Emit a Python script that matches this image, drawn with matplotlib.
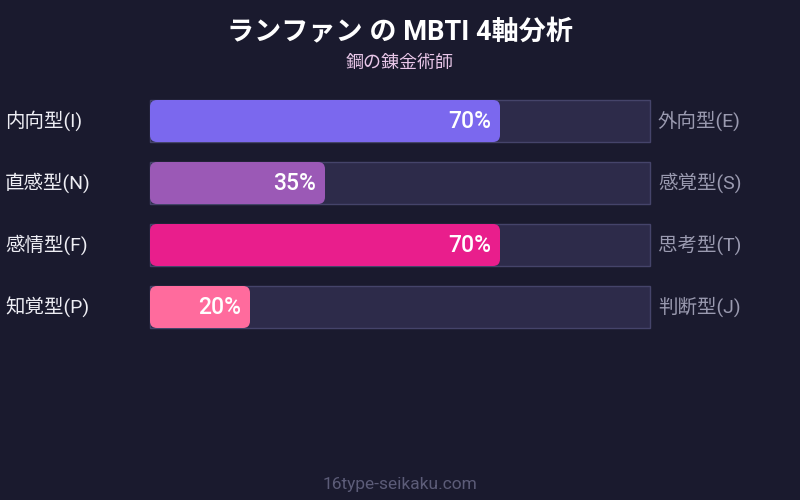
import matplotlib
matplotlib.use("Agg")
import matplotlib.pyplot as plt
from matplotlib.patches import FancyBboxPatch, Rectangle

plt.rcParams['font.family'] = ['Roboto', 'Noto Sans CJK JP', 'DejaVu Sans']

title = "ランファン の MBTI 4軸分析"
subtitle = "鋼の錬金術師"
footer = "16type-seikaku.com"
left_labels = ["内向型(I)", "直感型(N)", "感情型(F)", "知覚型(P)"]
right_labels = ["外向型(E)", "感覚型(S)", "思考型(T)", "判断型(J)"]
values = [70, 35, 70, 20]
bar_colors = ["#7b68ee", "#9b59b6", "#e91e8c", "#ff6b9d"]

bg = "#1a1a2e"
fig = plt.figure(figsize=(8, 5), dpi=100, facecolor=bg)
ax = fig.add_axes([0, 0, 1, 1])
ax.set_facecolor(bg)
ax.set_xlim(0, 800)
ax.set_ylim(500, 0)
ax.axis("off")

x0, track_w, bar_h = 150, 500, 42
for i, (lab_l, lab_r, v, c) in enumerate(zip(left_labels, right_labels, values, bar_colors)):
    y = 100 + i * 62
    ax.add_patch(Rectangle((x0, y), track_w, bar_h, facecolor="#2d2b4a",
                           edgecolor="#45446a", linewidth=1))
    w = track_w * v / 100
    ax.add_patch(FancyBboxPatch((x0 + 7, y + 7), w - 14, bar_h - 14,
                                boxstyle="round,pad=7", facecolor=c,
                                edgecolor="none", mutation_aspect=1))
    ax.text(x0 + w - 9, y + bar_h / 2, f"{v}%", color="white", fontsize=16.5,
            fontweight="medium", ha="right", va="center")
    ax.text(5, y + bar_h / 2, lab_l, color="#eeeef4", fontsize=14,
            ha="left", va="center")
    ax.text(658, y + bar_h / 2, lab_r, color="#9a9ab0", fontsize=14,
            ha="left", va="center")

ax.text(400, 33, title, color="white", fontsize=19.5, fontweight="bold",
        ha="center", va="center")
ax.text(400, 63, subtitle, color="#e8c6e8", fontsize=13, ha="center", va="center")
ax.text(400, 484, footer, color="#5c5c78", fontsize=12.5, ha="center", va="center")

fig.savefig("out.png", dpi=100, facecolor=bg)
